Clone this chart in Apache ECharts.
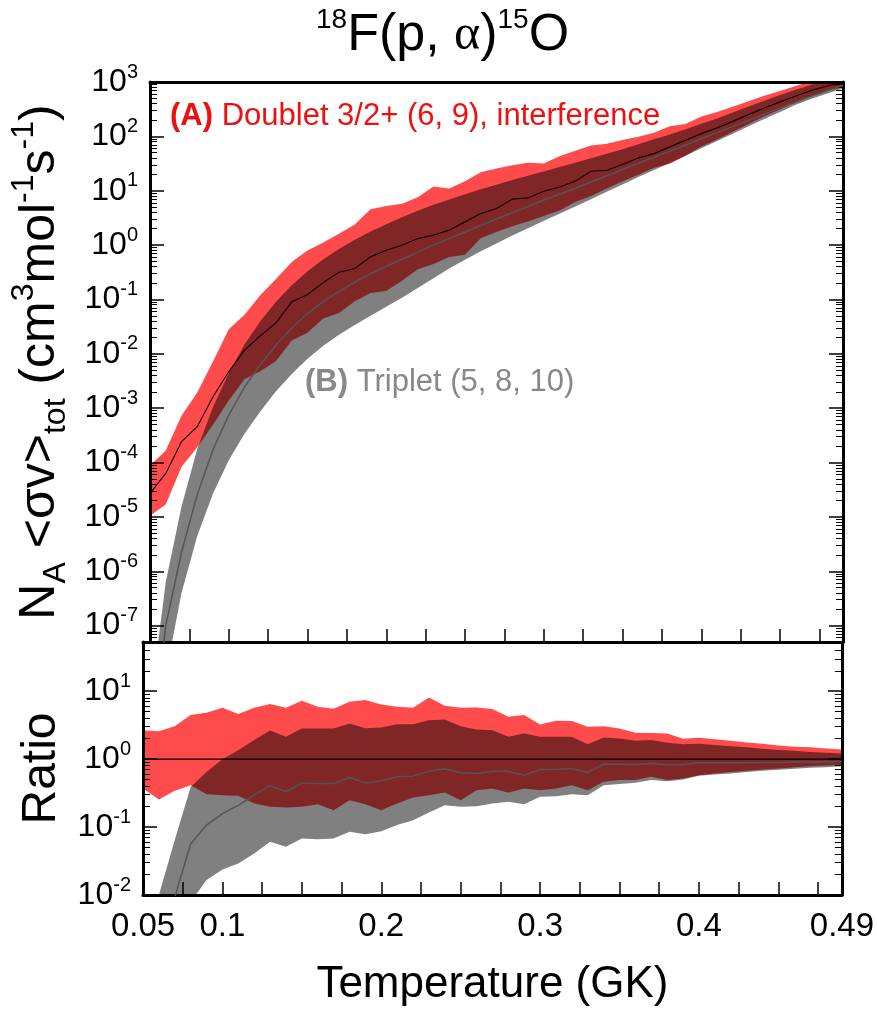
<!DOCTYPE html>
<html><head><meta charset="utf-8">
<script src="https://cdn.jsdelivr.net/npm/echarts@6/dist/echarts.min.js"></script>
<style>html,body{margin:0;padding:0;background:#fff}#c{width:877px;height:1020px}</style>
</head><body><div id="c"></div><script>
// ---------------- DATA ----------------
const TEMPS = [0.05,0.06,0.07,0.08,0.09,0.10,0.11,0.12,0.13,0.14,0.15,0.16,0.17,0.18,0.19,0.20,0.21,0.22,0.23,0.24,0.25,0.26,0.27,0.28,0.29,0.30,0.31,0.32,0.33,0.34,0.35,0.36,0.37,0.38,0.39,0.40,0.41,0.42,0.43,0.44,0.45,0.46,0.47,0.48,0.49];

// Top panel: N_A<sigma v> (cm^3 mol^-1 s^-1)
const redMedian = [2.71e-5,6.31e-5,2.42e-4,4.55e-4,1.62e-3,4.68e-3,1.17e-2,2.14e-2,3.72e-2,9.04e-2,0.123,0.204,0.316,0.371,0.607,0.805,0.995,1.318,1.52,1.88,2.67,3.80,4.70,6.98,7.38,9.79,11.7,15.0,22.8,23.8,30.3,40.1,48.2,64.0,84.7,112,143,189,251,333,430,553,703,845,973];
const redUpper = [8.7e-5,1.66e-4,7.24e-4,1.95e-3,7.24e-3,2.82e-2,5.25e-2,0.120,0.237,0.490,0.794,1.12,1.62,2.40,4.57,5.25,5.75,7.59,12.0,11.0,15.0,21.9,25.6,29.3,32.8,31.8,43.2,54.3,68.2,72.9,85.7,98.0,116,153,169,232,282,352,442,561,682,841,1045,1213,1349];
const redLower = [1.05e-5,1.70e-5,8.32e-5,1.91e-4,4.95e-4,1.38e-3,3.39e-3,4.79e-3,7.41e-3,1.75e-2,2.45e-2,4.47e-2,5.62e-2,9.23e-2,0.132,0.143,0.221,0.359,0.449,0.607,0.665,1.33,1.74,2.23,2.73,3.42,4.35,6.19,7.96,11.0,14.9,19.7,26.5,31.4,44.0,65.3,87.9,122,169,235,313,422,555,682,804];
const grayMedian = [3.2e-10,1.0e-7,2.24e-6,2.57e-5,1.74e-4,7.41e-4,2.45e-3,6.31e-3,1.45e-2,2.95e-2,5.50e-2,9.12e-2,0.141,0.209,0.295,0.407,0.550,0.741,1.00,1.33,1.74,2.29,3.02,3.94,5.13,6.76,8.61,11.1,14.5,18.8,24.5,32.0,41.2,53.1,69.2,90.2,117,151,197,257,331,427,550,692,871];
const grayUpper = [3.2e-9,6.3e-7,1.55e-5,1.78e-4,1.05e-3,4.37e-3,1.48e-2,3.98e-2,9.12e-2,0.182,0.331,0.550,0.851,1.26,1.78,2.43,3.24,4.27,5.50,6.92,8.61,10.6,12.9,15.7,18.8,22.6,27.2,32.7,39.4,47.9,58.2,71.6,88.1,108,135,170,214,275,355,452,575,724,891,1047,1175];
const grayLower = [1e-11,1.26e-8,3.98e-7,4.47e-6,2.69e-5,1.10e-4,3.39e-4,8.71e-4,2.04e-3,4.27e-3,8.13e-3,1.41e-2,2.24e-2,3.39e-2,5.01e-2,7.33e-2,0.108,0.162,0.245,0.372,0.537,0.767,1.07,1.50,2.04,2.79,3.76,5.13,7.00,9.55,13.0,17.8,24.0,32.4,44.2,60.3,82.2,112,153,209,282,380,490,617,767];

// Bottom panel: ratio
const ratioRedMedian = [1,1,1,1,1,1,1,1,1,1,1,1,1,1,1,1,1,1,1,1,1,1,1,1,1,1,1,1,1,1,1,1,1,1,1,1,1,1,1,1,1,1,1,1,1];
const ratioRedUpper = [2.67,2.58,3.06,4.45,4.81,5.70,4.60,5.70,6.46,5.70,7.23,5.90,5.51,6.98,7.40,6.38,5.90,5.70,8.09,6.10,5.70,5.77,5.45,4.20,4.45,3.24,3.67,3.63,2.99,3.06,2.83,2.44,2.42,2.39,1.99,2.06,1.97,1.86,1.76,1.68,1.59,1.52,1.49,1.44,1.39];
const ratioRedLower = [0.370,0.255,0.342,0.414,0.305,0.295,0.288,0.222,0.199,0.194,0.199,0.217,0.177,0.249,0.217,0.177,0.222,0.272,0.295,0.323,0.249,0.349,0.370,0.319,0.370,0.349,0.370,0.414,0.349,0.463,0.491,0.491,0.550,0.491,0.519,0.581,0.615,0.644,0.673,0.705,0.730,0.762,0.789,0.807,0.826];
const ratioGrayUpper = [1.26e-4,0.010,0.0646,0.389,0.646,1.00,1.35,1.91,2.63,2.14,2.82,2.82,2.82,3.35,2.86,2.92,3.27,3.27,3.75,3.84,3.06,2.74,2.67,2.13,2.39,2.13,2.13,2.13,1.66,2.08,2.01,1.86,1.91,1.74,1.66,1.68,1.61,1.55,1.49,1.42,1.36,1.33,1.27,1.24,1.21];
const ratioGrayMedian = [1e-5,1.58e-3,9.3e-3,0.0562,0.107,0.158,0.209,0.295,0.407,0.331,0.447,0.437,0.437,0.537,0.447,0.479,0.550,0.562,0.661,0.724,0.631,0.617,0.661,0.665,0.581,0.705,0.705,0.730,0.637,0.843,0.843,0.834,0.863,0.826,0.826,0.883,0.883,0.883,0.883,0.893,0.893,0.904,0.904,0.904,0.904];
const ratioGrayLower = [4e-7,2e-4,1.66e-3,7.9e-3,0.0166,0.0237,0.0290,0.0407,0.0607,0.0513,0.0679,0.0664,0.0679,0.0851,0.0785,0.0871,0.107,0.126,0.164,0.210,0.199,0.203,0.222,0.236,0.217,0.279,0.285,0.305,0.295,0.414,0.429,0.448,0.491,0.474,0.502,0.569,0.594,0.615,0.644,0.673,0.697,0.721,0.745,0.762,0.789];

// Tick labels
const X_LABELS = [0.05, 0.1, 0.2, 0.3, 0.4, 0.49];
const TOP_DECADES = [1e-7,1e-6,1e-5,1e-4,1e-3,1e-2,1e-1,1,10,100,1000];
const RATIO_DECADES = [0.01, 0.1, 1, 10];

// ---------------- CHART ----------------
const SANS = "'Liberation Sans',Arial,Helvetica,sans-serif";
const X_MIN = 0.05, X_MAX = 0.49;
const TOP_MIN = 5e-8, TOP_MAX = 1000, R_MIN = 0.01, R_MAX = 53;

function minorValues(decades, lo, hi) {
  const out = [];
  decades.concat([decades[0] / 10]).forEach(d => {
    for (let k = 2; k <= 9; k++) { const v = d * k; if (v > lo && v < hi) out.push(v); }
  });
  return out;
}
function decadeLabel(v) { const e = Math.round(Math.log10(v)); return '{b|10}{s|' + e + '}'; }
const labelRich = {
  b: { fontFamily: SANS, fontSize: 32, lineHeight: 40, color: '#000' },
  s: { fontFamily: SANS, fontSize: 20, lineHeight: 20, verticalAlign: 'top', color: '#000' }
};
const AXLINE = { show: true, onZero: false, lineStyle: { color: '#000', width: 3 } };

function yAxes(gridIndex, min, max, decades, nameObj) {
  const minors = minorValues(decades, min, max);
  const base = { type: 'log', gridIndex, min, max, splitLine: { show: false }, axisLine: AXLINE };
  const major = { inside: true, length: 14, customValues: decades, lineStyle: { color: '#000', width: 1.5 } };
  const minor = { inside: true, length: 7, customValues: minors, lineStyle: { color: '#000', width: 1 } };
  return [
    Object.assign({}, base, { position: 'left', axisTick: major,
      axisLabel: { customValues: decades, formatter: decadeLabel, rich: labelRich, margin: 12 } }, nameObj),
    Object.assign({}, base, { position: 'left', axisLine: { show: false }, axisTick: minor, axisLabel: { show: false } }),
    Object.assign({}, base, { position: 'right', axisTick: major, axisLabel: { show: false } }),
    Object.assign({}, base, { position: 'right', axisLine: { show: false }, axisTick: minor, axisLabel: { show: false } })
  ];
}

function xAxis(gridIndex, position, ticks, labels, extra) {
  return Object.assign({
    type: 'value', gridIndex, position, min: X_MIN, max: X_MAX, interval: 0.025,
    axisLine: AXLINE, splitLine: { show: false },
    axisTick: ticks ? { inside: true, length: 13, lineStyle: { color: '#000', width: 1.5 } } : { show: false },
    axisLabel: labels ? { customValues: X_LABELS, formatter: v => String(+(+v).toFixed(2)),
      fontFamily: SANS, fontSize: 33, color: '#000', margin: 15 } : { show: false }
  }, extra || {});
}

function band(xi, yi, lo, hi, color) {
  return {
    type: 'custom', xAxisIndex: xi, yAxisIndex: yi, clip: true, blendMode: 'multiply', silent: true, z: 2,
    data: TEMPS.map((t, i) => [t, lo[i], hi[i]]),
    renderItem: function (params, api) {
      if (params.dataIndex !== 0) return null;
      const pts = [];
      for (let i = 0; i < TEMPS.length; i++) pts.push(api.coord([TEMPS[i], hi[i]]));
      for (let i = TEMPS.length - 1; i >= 0; i--) pts.push(api.coord([TEMPS[i], lo[i]]));
      return { type: 'polygon', shape: { points: pts }, style: { fill: color, stroke: null } };
    }
  };
}
function line(xi, yi, vals, color, width) {
  return {
    type: 'line', xAxisIndex: xi, yAxisIndex: yi, showSymbol: false, clip: true, silent: true, z: 4,
    data: TEMPS.map((t, i) => [t, vals[i]]), lineStyle: { color, width }
  };
}

const RED = '#ff4b4b', GRAY = '#808080';
const tok = (size, lh, color, extra) => Object.assign({ fontFamily: SANS, fontSize: size, lineHeight: lh, fontWeight: 'normal', color }, extra || {});

const option = {
  backgroundColor: '#fff',
  animation: false,
  title: [
    { text: '{s|18}{m|F(p, }{a|α}{m|)}{s|15}{m|O}', left: 316, top: 6, padding: 0,
      textStyle: { fontWeight: 'normal', rich: {
        m: tok(52, 60, '#000'),
        a: tok(50, 60, '#000', { fontFamily: "'Liberation Serif','DejaVu Serif',serif" }),
        s: tok(28, 32, '#000', { verticalAlign: 'top' }) } } },
    { text: '{b|(A)}{r| Doublet 3/2+ (6, 9), interference}', left: 170, top: 97, padding: 0,
      textStyle: { fontWeight: 'normal', rich: {
        b: tok(31, 38, '#ee0f0f', { fontWeight: 'bold' }),
        r: tok(31, 38, '#ee0f0f') } } },
    { text: '{b|(B)}{r| Triplet (5, 8, 10)}', left: 305, top: 363, padding: 0,
      textStyle: { fontWeight: 'normal', rich: {
        b: tok(31, 38, '#888888', { fontWeight: 'bold' }),
        r: tok(31, 38, '#888888') } } }
  ],
  grid: [
    { left: 143, top: 82, width: 700, height: 560, containLabel: false },
    { left: 143, top: 642, width: 700, height: 253, containLabel: false }
  ],
  xAxis: [
    xAxis(0, 'bottom', true, false),
    xAxis(0, 'top', false, false),
    xAxis(1, 'bottom', true, true, {
      name: 'Temperature (GK)', nameLocation: 'middle', nameGap: 66,
      nameTextStyle: { fontFamily: SANS, fontSize: 44, lineHeight: 48, color: '#000' } }),
    xAxis(1, 'top', false, false)
  ],
  yAxis: [].concat(
    yAxes(0, TOP_MIN, TOP_MAX, TOP_DECADES, {
      name: '{n|N}{sub|A}{n| <σv>}{sub|tot}{n| (cm}{sup|3}{n|mol}{sup|-1}{n|s}{sup|-1}{n|)}',
      nameLocation: 'middle', nameGap: 78,
      nameTextStyle: { rich: {
        n: { fontFamily: SANS, fontSize: 50, lineHeight: 64, color: '#000' },
        sub: { fontFamily: SANS, fontSize: 32, lineHeight: 32, verticalAlign: 'bottom', color: '#000' },
        sup: { fontFamily: SANS, fontSize: 32, lineHeight: 32, verticalAlign: 'top', color: '#000' } } } }),
    yAxes(1, R_MIN, R_MAX, RATIO_DECADES, {
      name: 'Ratio', nameLocation: 'middle', nameGap: 76,
      nameTextStyle: { fontFamily: SANS, fontSize: 48, lineHeight: 50, color: '#000' } })
  ),
  series: [
    band(0, 0, grayLower, grayUpper, GRAY),
    band(0, 0, redLower, redUpper, RED),
    line(0, 0, grayMedian, '#555555', 1.5),
    line(0, 0, redMedian, '#1a0000', 1.2),
    band(2, 4, ratioGrayLower, ratioGrayUpper, GRAY),
    band(2, 4, ratioRedLower, ratioRedUpper, RED),
    line(2, 4, ratioGrayMedian, '#555555', 1.5),
    line(2, 4, ratioRedMedian, '#000000', 1.2)
  ]
};
const chart = echarts.init(document.getElementById('c'), null, { renderer: 'canvas' });
chart.setOption(option);
</script></body></html>
